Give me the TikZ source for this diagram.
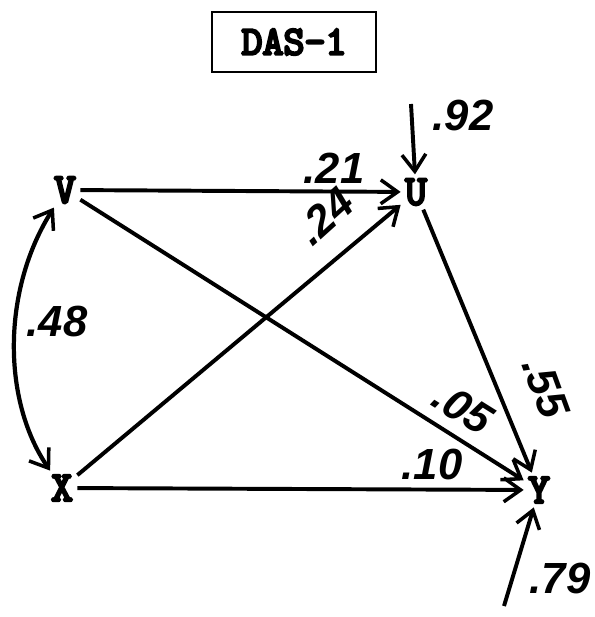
\documentclass[tikz,border=0pt]{standalone}
\usepackage{fontspec}
\setmainfont{Liberation Sans}
\newfontfamily\varfont[FakeBold=6]{Latin Modern Mono}
\usetikzlibrary{arrows.meta}

\tikzset{
    var/.style={font=\varfont\fontsize{30}{32}\selectfont, inner sep=3pt},
    coef/.style={font=\bfseries\itshape\fontsize{31}{33}\selectfont, inner sep=0pt},
    barb/.tip={Straight Barb[length=12pt,width=17pt,line width=2.5pt]},
    path/.style={line width=2.8pt, -barb},
}

\begin{document}
\begin{tikzpicture}[x=0.025cm, y=-0.025cm]
    \useasboundingbox (0,0) rectangle (594,617);
    \node[draw, line width=2pt, minimum width=4.1cm, minimum height=1.5cm, font=\varfont\fontsize{29}{30}\selectfont] (title) at (294,42) {DAS-1};

    \node[var] (V) at (65,190) {V};
    \node[var] (U) at (416,192) {U};
    \node[var] (X) at (62,488) {X};
    \node[var] (Y) at (539,490) {Y};

    \coordinate (eU) at (411,104);
    \coordinate (eY) at (504,606);

    \draw[path] (V) -- (U);
    \draw[path] (X) -- (U);
    \draw[path] (V) -- (Y);
    \draw[path] (U) -- (Y);
    \draw[path] (X) -- (Y);
    \draw[path] (eU) -- (U);
    \draw[path] (eY) -- (Y);
    \draw[line width=3pt, barb-barb] (V) .. controls (2,290) and (2,400) .. (X);

    \node[coef] (c21) at (334,168) {.21};
    \node[coef, rotate=42] (c24) at (325,216) {.24};
    \node[coef, rotate=-32] (c05) at (463,408) {.05};
    \node[coef, rotate=-70] (c55) at (546,388) {.55};
    \node[coef] (c10) at (432,464) {.10};
    \node[coef] (c48) at (57,322) {.48};
    \node[coef] (c92) at (463,115) {.92};
    \node[coef] (c79) at (560,578) {.79};
\end{tikzpicture}
\end{document}
